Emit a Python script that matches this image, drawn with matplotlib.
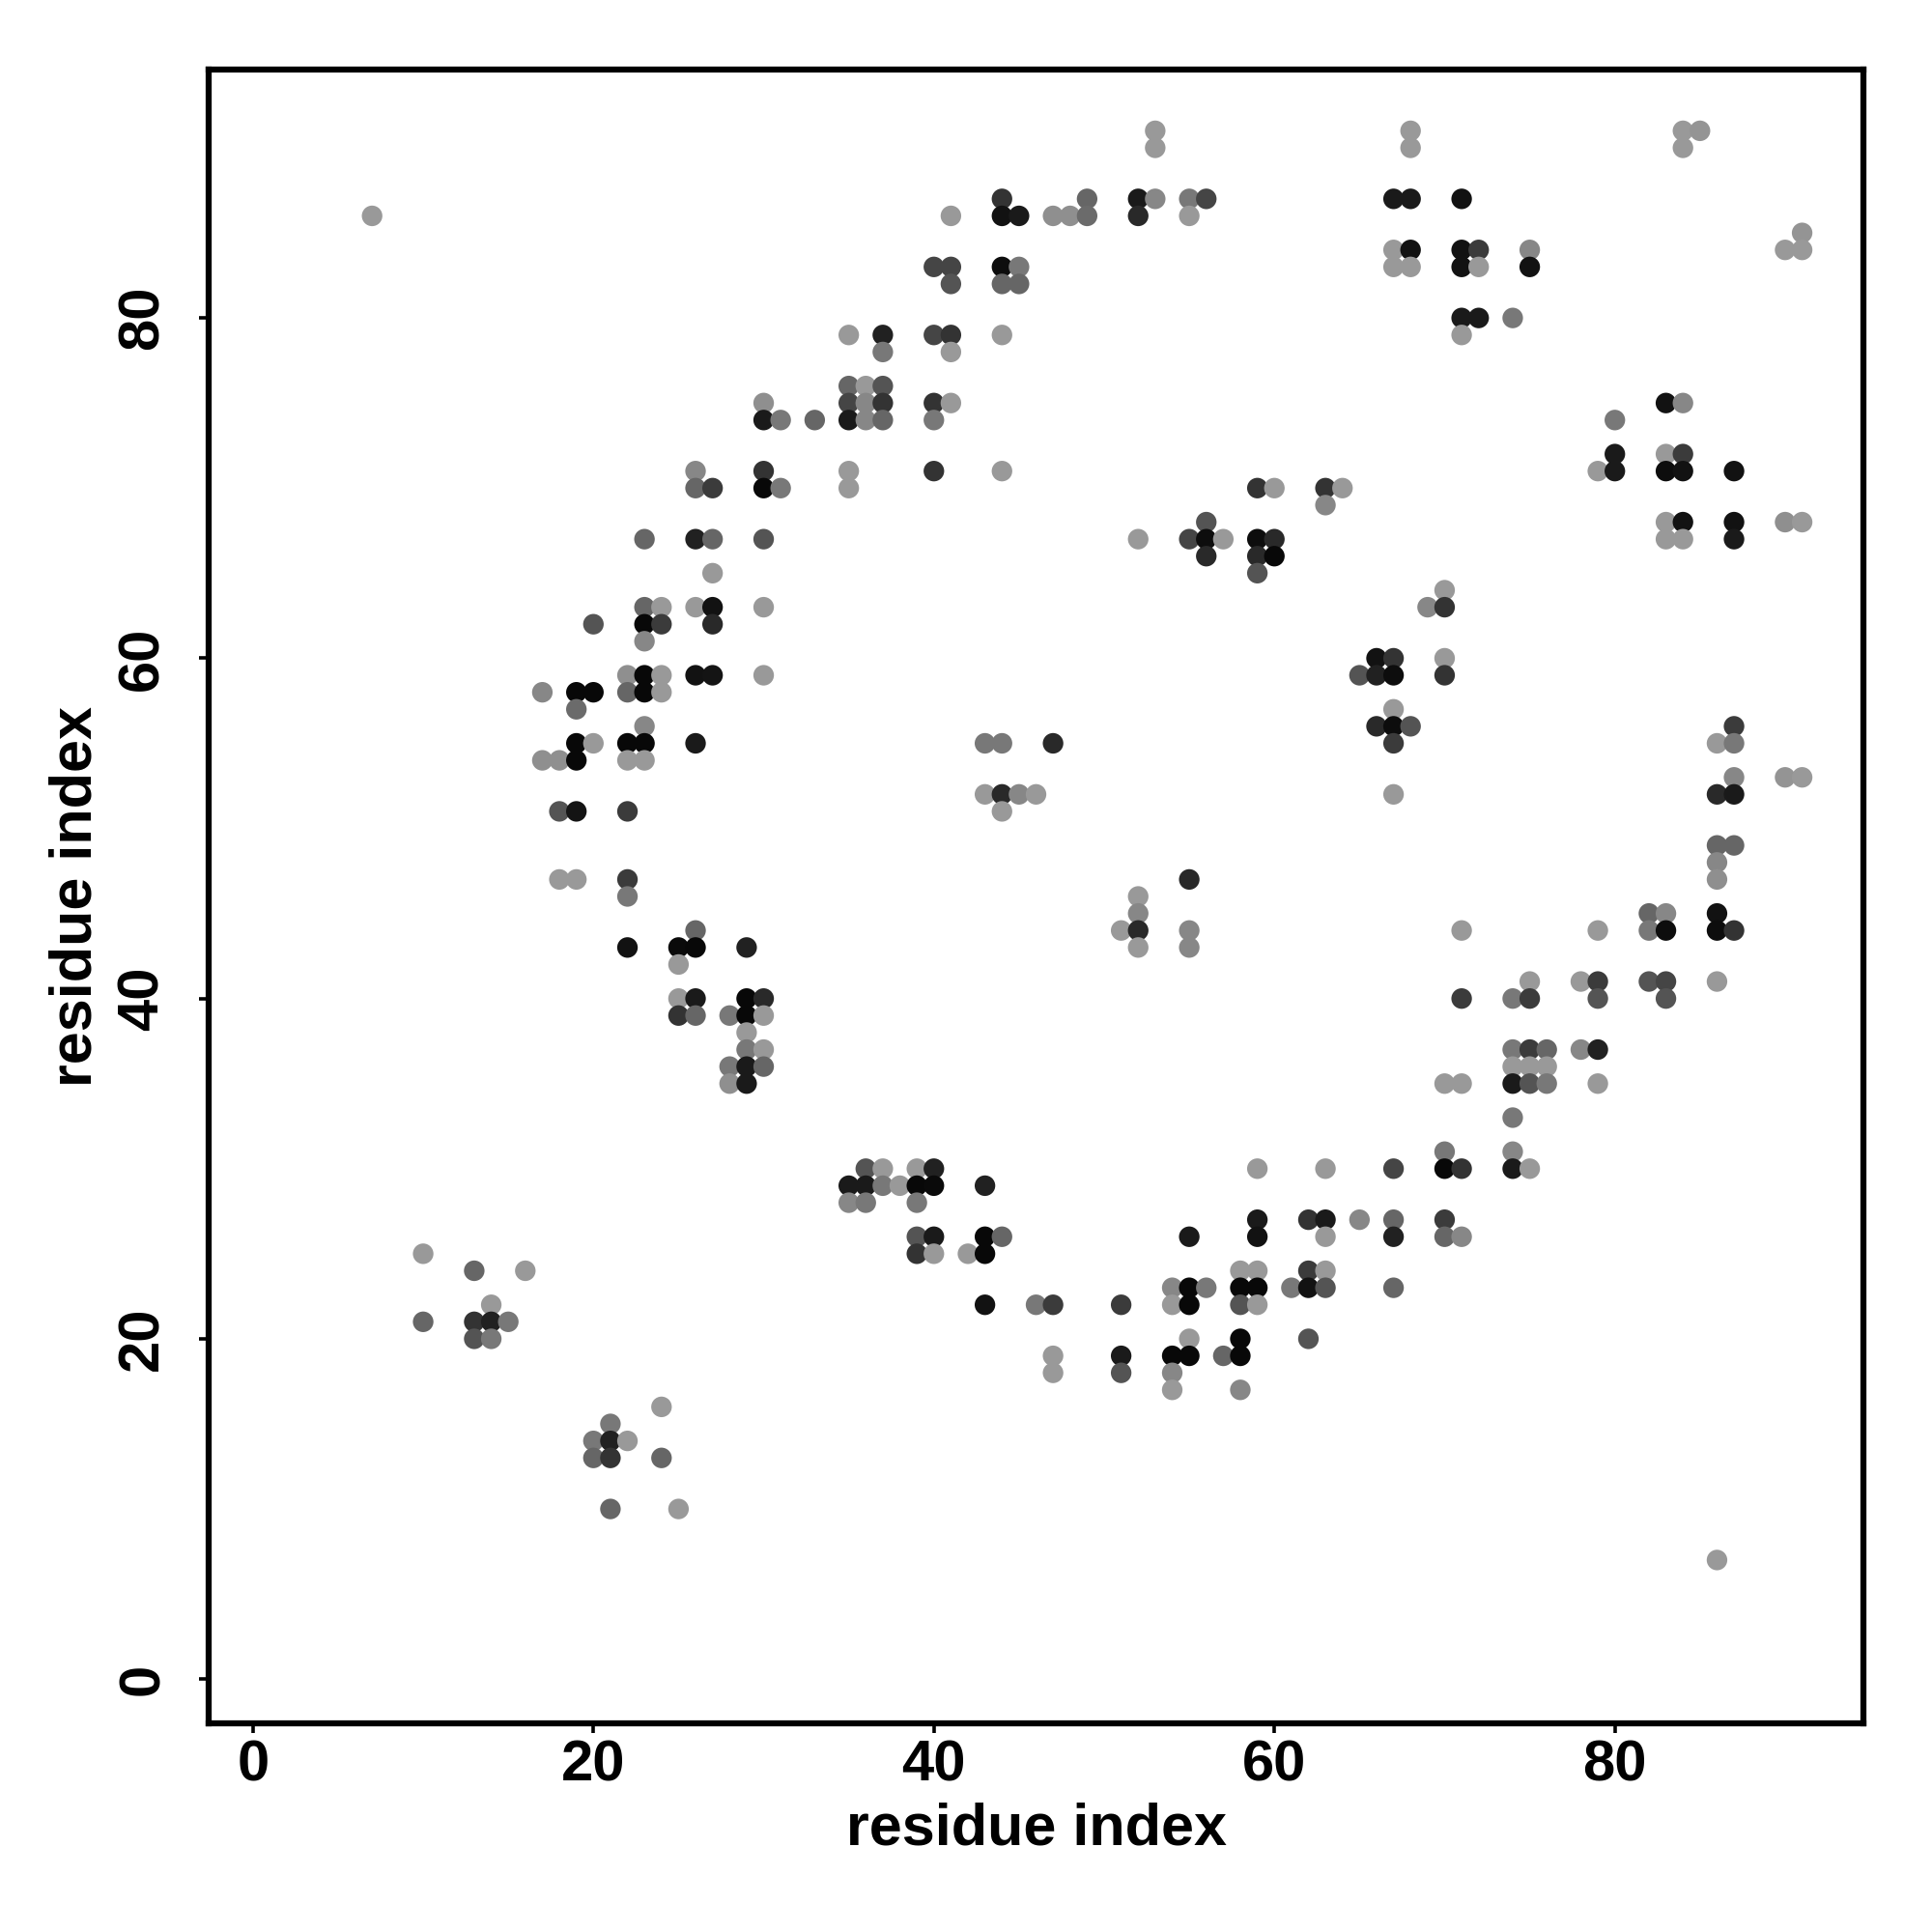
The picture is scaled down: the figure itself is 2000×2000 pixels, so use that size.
import matplotlib
matplotlib.use("Agg")
import matplotlib.pyplot as plt

# contact points: (residue i, residue j, grey level 0=black .. 1=white)
res_i = [53, 68, 84, 85,
         53, 68, 84,
         44, 49, 52, 53, 55, 56, 67, 68, 71,
         7, 41, 44, 45, 47, 48, 49, 52, 55,
         91,
         67, 68, 71, 72, 75, 90, 91,
         40, 41, 44, 45, 67, 68, 71, 72, 75,
         41, 44, 45,
         71, 72, 74,
         35, 37, 40, 41, 44, 71,
         37, 41,
         35, 36, 37,
         30, 35, 36, 37, 40, 41, 83, 84,
         30, 31, 33, 35, 36, 37, 40, 80,
         80, 83, 84,
         26, 30, 35, 40, 44, 79, 80, 83, 84, 87,
         26, 27, 30, 31, 35, 59, 60, 63, 64,
         63,
         56, 83, 84, 87, 90, 91,
         23, 26, 27, 30, 52, 55, 56, 57, 59, 60, 83, 84, 87,
         56, 59, 60,
         27, 59,
         70,
         23, 24, 26, 27, 30, 69, 70,
         20, 23, 24, 27,
         23,
         66, 67, 70,
         22, 23, 24, 26, 27, 30, 65, 66, 67, 70,
         17, 19, 20, 22, 23, 24,
         19, 67,
         23, 66, 67, 68, 87,
         19, 20, 22, 23, 26, 43, 44, 47, 67, 86, 87,
         17, 18, 19, 22, 23,
         87, 90, 91,
         43, 44, 45, 46, 67, 86, 87,
         18, 19, 22, 44,
         86, 87,
         86,
         18, 19, 22, 55, 86,
         22, 52,
         52, 82, 83, 86,
         26, 51, 52, 55, 71, 79, 82, 83, 86, 87,
         22, 25, 26, 29, 52, 55,
         25,
         75, 78, 79, 82, 83, 86,
         25, 26, 29, 30, 71, 74, 75, 79, 83,
         25, 26, 28, 29, 30,
         29,
         29, 30, 74, 75, 76, 78, 79,
         28, 29, 30, 74, 75, 76,
         28, 29, 70, 71, 74, 75, 76, 79,
         74,
         70, 74,
         36, 37, 39, 40, 59, 63, 67, 70, 71, 74, 75,
         35, 36, 37, 38, 39, 40, 43,
         35, 36, 39,
         59, 62, 63, 65, 67, 70,
         39, 40, 43, 44, 55, 59, 63, 67, 70, 71,
         10, 39, 40, 42, 43,
         13, 16, 58, 59, 62, 63,
         54, 55, 56, 58, 59, 61, 62, 63, 67,
         14, 43, 46, 47, 51, 54, 55, 58, 59,
         10, 13, 14, 15,
         13, 14, 55, 58, 62,
         47, 51, 54, 55, 57, 58,
         47, 51, 54,
         54, 58,
         24,
         21,
         20, 21, 22,
         20, 21, 24,
         21, 25,
         86]

res_j = [91] * 4 + [90] * 3 + [87] * 9 + [86] * 9 + [85] * 1 + [84] * 7 + \
        [83] * 9 + [82] * 3 + [80] * 3 + [79] * 6 + [78] * 2 + [76] * 3 + \
        [75] * 8 + [74] * 8 + [72] * 3 + [71] * 10 + [70] * 9 + [69] * 1 + \
        [68] * 6 + [67] * 13 + [66] * 3 + [65] * 2 + [64] * 1 + [63] * 7 + \
        [62] * 4 + [61] * 1 + [60] * 3 + [59] * 10 + [58] * 6 + [57] * 2 + \
        [56] * 5 + [55] * 11 + [54] * 5 + [53] * 3 + [52] * 7 + [51] * 4 + \
        [49] * 2 + [48] * 1 + [47] * 5 + [46] * 2 + [45] * 4 + [44] * 10 + \
        [43] * 6 + [42] * 1 + [41] * 6 + [40] * 9 + [39] * 5 + [38] * 1 + \
        [37] * 7 + [36] * 6 + [35] * 8 + [33] * 1 + [31] * 2 + [30] * 11 + \
        [29] * 7 + [28] * 3 + [27] * 6 + [26] * 10 + [25] * 5 + [24] * 6 + \
        [23] * 9 + [22] * 9 + [21] * 4 + [20] * 5 + [19] * 6 + [18] * 3 + \
        [17] * 2 + [16] * 1 + [15] * 1 + [14] * 3 + [13] * 3 + [10] * 2 + [7] * 1

shade = [.60, .60, .60, .58,
         .60, .60, .60,
         .20, .40, .10, .53, .47, .27, .10, .10, .07,
         .60, .60, .07, .10, .56, .56, .42, .16, .60,
         .58,
         .60, .07, .07, .23, .53, .60, .60,
         .27, .27, .05, .47, .60, .60, .07, .60, .07,
         .33, .40, .40,
         .10, .10, .47,
         .60, .13, .27, .20, .60, .60,
         .47, .60,
         .40, .60, .33,
         .56, .27, .53, .20, .20, .60, .07, .53,
         .10, .47, .40, .10, .53, .40, .47, .47,
         .10, .60, .23,
         .53, .20, .60, .20, .60, .60, .10, .05, .07, .07,
         .40, .23, .03, .47, .60, .20, .60, .20, .60,
         .53,
         .33, .60, .07, .07, .56, .60,
         .40, .13, .40, .33, .60, .27, .05, .60, .05, .16, .60, .60, .10,
         .16, .16, .03,
         .60, .33,
         .60,
         .40, .60, .60, .07, .60, .53, .20,
         .33, .03, .23, .16,
         .53,
         .07, .20, .60,
         .56, .03, .60, .07, .08, .60, .33, .13, .05, .20,
         .53, .03, .03, .40, .03, .60,
         .42, .60,
         .53, .16, .05, .33, .23,
         .03, .60, .03, .03, .10, .47, .47, .16, .23, .60, .47,
         .56, .56, .03, .60, .60,
         .53, .58, .60,
         .60, .16, .53, .60, .60, .16, .10,
         .33, .08, .23, .60,
         .40, .40,
         .53,
         .60, .60, .23, .16, .56,
         .47, .60,
         .53, .40, .53, .07,
         .40, .60, .16, .53, .60, .60, .47, .05, .05, .20,
         .07, .04, .03, .13, .60, .53,
         .60,
         .60, .60, .23, .33, .27, .60,
         .60, .10, .03, .16, .23, .47, .23, .33, .33,
         .20, .40, .47, .03, .60,
         .60,
         .47, .60, .47, .23, .40, .53, .13,
         .47, .10, .40, .60, .60, .60,
         .56, .10, .60, .60, .10, .33, .47, .60,
         .47,
         .47, .53,
         .33, .60, .60, .13, .60, .60, .27, .03, .20, .10, .60,
         .10, .10, .47, .60, .03, .04, .13,
         .53, .47, .47,
         .10, .20, .10, .53, .40, .23,
         .33, .10, .03, .40, .10, .07, .60, .13, .40, .53,
         .60, .20, .60, .60, .03,
         .40, .60, .60, .60, .23, .60,
         .53, .03, .47, .03, .03, .47, .07, .33, .40,
         .60, .07, .47, .23, .23, .60, .03, .33, .60,
         .40, .20, .13, .47,
         .33, .47, .60, .03, .33,
         .60, .10, .03, .03, .40, .03,
         .60, .33, .53,
         .60, .53,
         .60,
         .47,
         .47, .13, .60,
         .40, .20, .40,
         .40, .60,
         .60]

x_ticks = [0, 20, 40, 60, 80]
y_ticks = [0, 20, 40, 60, 80]
axis_label = "residue index"

assert len(res_i) == len(res_j) == len(shade)

plt.rcParams['font.family'] = ['Liberation Sans', 'DejaVu Sans']
plt.rcParams['font.weight'] = 'bold'

fig = plt.figure(figsize=(20, 20), dpi=100)
ax = fig.add_axes([0.108, 0.108, 0.8565, 0.856])

colors = [(g, g, g) for g in shade]
ax.scatter(res_i, res_j, s=235, c=colors, edgecolors='none', zorder=3)

ax.set_xlim(-2.6, 94.6)
ax.set_ylim(-2.6, 94.6)
ax.set_xticks(x_ticks)
ax.set_yticks(y_ticks)
ax.set_xticklabels([str(t) for t in x_ticks], fontsize=43, fontweight='bold')
ax.set_yticklabels([str(t) for t in y_ticks], fontsize=43, fontweight='bold',
                   rotation=90, va='center')

for sp in ax.spines.values():
    sp.set_linewidth(4.5)
    sp.set_color('black')

ax.tick_params(axis='both', direction='out', length=7, width=2.6, color='black')
ax.tick_params(axis='x', pad=5)
ax.tick_params(axis='y', pad=22)

ax.set_xlabel(axis_label, fontsize=44, fontweight='bold', va='center')
ax.set_ylabel(axis_label, fontsize=44, fontweight='bold', va='center')
ax.xaxis.set_label_coords(0.5, -0.064)
ax.yaxis.set_label_coords(-0.080, 0.5)

fig.savefig("out.png", dpi=100, facecolor='white')
